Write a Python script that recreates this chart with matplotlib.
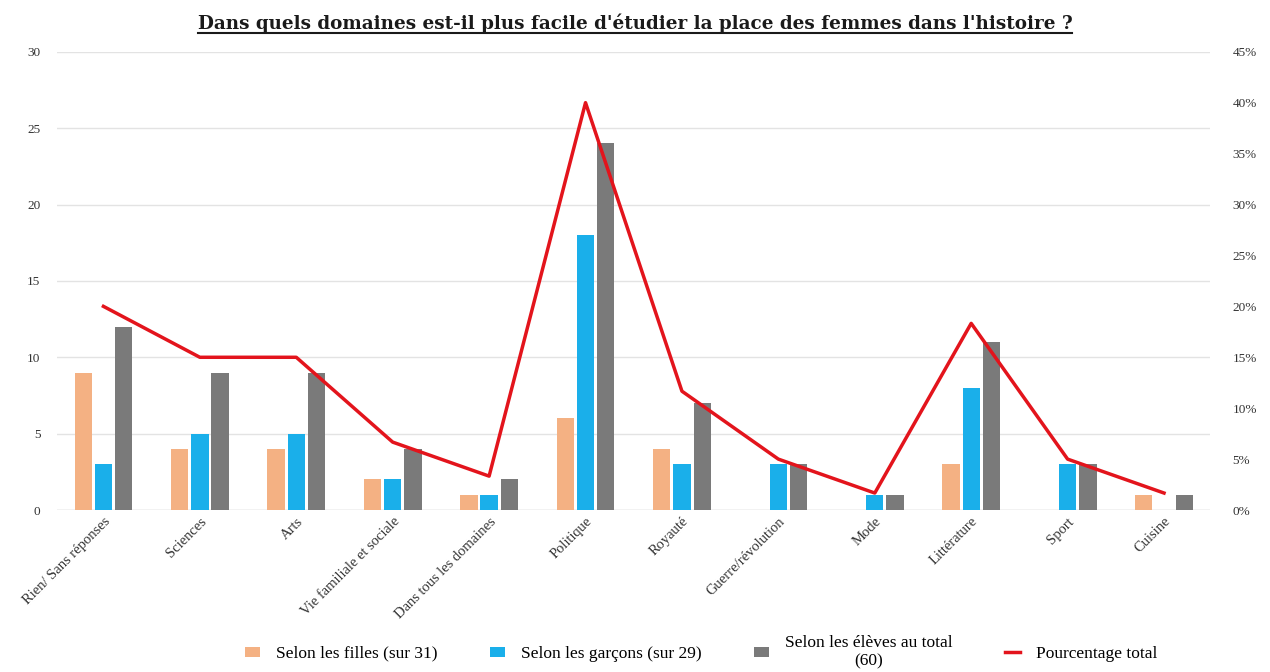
import matplotlib.pyplot as plt
import numpy as np
from matplotlib.ticker import FuncFormatter, MultipleLocator

plt.rcParams['font.family'] = ['Liberation Serif', 'DejaVu Serif']

categories = ["Rien/ Sans réponses", "Sciences", "Arts", "Vie familiale et sociale",
              "Dans tous les domaines", "Politique", "Royauté", "Guerre/révolution",
              "Mode", "Littérature", "Sport", "Cuisine"]
filles = [9, 4, 4, 2, 1, 6, 4, 0, 0, 3, 0, 1]
garcons = [3, 5, 5, 2, 1, 18, 3, 3, 1, 8, 3, 0]
total = [12, 9, 9, 4, 2, 24, 7, 3, 1, 11, 3, 1]
pourcentage = [0.20, 0.15, 0.15, 0.0667, 0.0333, 0.40, 0.1167, 0.05, 0.0167, 0.1833, 0.05, 0.0167]

labels = ["Selon les filles (sur 31)", "Selon les garçons (sur 29)",
          "Selon les élèves au total\n(60)", "Pourcentage total"]

fig = plt.figure(figsize=(12.7, 6.72), dpi=100)
ax = fig.add_axes([0.045, 0.241, 0.908, 0.682])
x = np.arange(len(categories))
w = 0.18
off = 0.21

b1 = ax.bar(x - off, filles, w, color='#F4B183', label=labels[0], zorder=3)
b2 = ax.bar(x, garcons, w, color='#1AAFEA', label=labels[1], zorder=3)
b3 = ax.bar(x + off, total, w, color='#7A7A7A', label=labels[2], zorder=3)

ax.set_ylim(0, 30)
ax.set_xlim(-0.48, 11.48)
ax.yaxis.set_major_locator(MultipleLocator(5))
ax.grid(axis='y', color='#E3E3E3', lw=1, zorder=0)
for s in ax.spines.values():
    s.set_visible(False)
ax.axhline(0, color='#DADADA', lw=1, zorder=2)
ax.tick_params(axis='both', length=0, colors='#333333', labelsize=10.5)
ax.tick_params(axis='y', labelsize=9.5, pad=12)
ax.set_xticks(x)
ax.set_xticklabels(categories, rotation=45, ha='right', rotation_mode='anchor')

ax2 = ax.twinx()
l1, = ax2.plot(x, pourcentage, color='#E3141C', lw=2.5, label=labels[3], zorder=4)
ax2.set_ylim(0, 0.45)
ax2.yaxis.set_major_locator(MultipleLocator(0.05))
ax2.yaxis.set_major_formatter(FuncFormatter(lambda v, p: f"{v*100:.0f}%"))
ax2.tick_params(axis='y', length=0, colors='#333333', labelsize=9.5, pad=16)
for s in ax2.spines.values():
    s.set_visible(False)

leg = fig.legend(handles=[b1, b2, b3, l1], labels=labels, loc='center',
                 bbox_to_anchor=(0.552, 0.03), ncol=4, frameon=False,
                 fontsize=12.5, handlelength=0.9, handleheight=0.5,
                 columnspacing=3.0, handletextpad=0.9)
for t in leg.get_texts():
    t.set_multialignment('center')

title = fig.text(0.5, 0.965, "Dans quels domaines est-il plus facile d'étudier la place des femmes dans l'histoire ?",
                 ha='center', va='center', fontsize=13.2, fontweight='bold', color='#1A1A1A',
                 family='DejaVu Serif')
fig.canvas.draw()
bb = title.get_window_extent().transformed(fig.transFigure.inverted())
fig.add_artist(plt.Line2D([bb.x0, bb.x1], [bb.y0 + 0.001, bb.y0 + 0.001],
                          transform=fig.transFigure, color='#1A1A1A', lw=1.5))

fig.savefig('out.png', dpi=100)
